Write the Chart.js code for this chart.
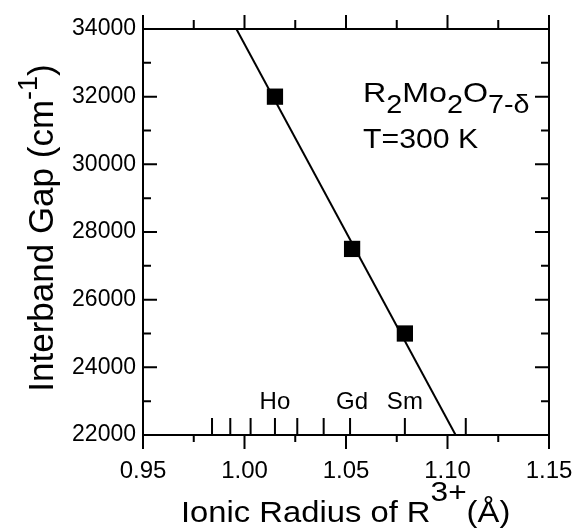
<!DOCTYPE html>
<html>
<head>
<meta charset="utf-8">
<script src="https://cdn.jsdelivr.net/npm/chart.js@4/dist/chart.umd.min.js"></script>
<style>
  html, body { margin: 0; padding: 0; background: #fff; }
  #wrap { width: 573px; height: 529px; }
</style>
</head>
<body>
<div id="wrap"><canvas id="chart" width="573" height="529"></canvas></div>
<script>
// measured points (Ho, Gd, Sm)
const compounds = ['Ho', 'Gd', 'Sm']
const ionicRadius = [1.015, 1.053, 1.079]
const interbandGap = [32000, 27500, 25000]

// linear fit drawn through the points
const fitRadius = [0.996, 1.104]
const fitGap = [34000, 22000]

// rare-earth ionic radii marked on the x axis
const rareEarthRadii = [0.984, 0.993, 1.003, 1.015, 1.026, 1.039, 1.052, 1.079, 1.109]

const xTicks = [0.95, 1.00, 1.05, 1.10, 1.15]
const yTicks = [22000, 24000, 26000, 28000, 30000, 32000, 34000]

const FONT = '"Liberation Sans", Arial, sans-serif'

function runsWidth(ctx, runs) {
  let w = 0
  runs.forEach(r => { ctx.font = r.size + 'px ' + FONT; w += ctx.measureText(r.t).width })
  return w
}
function drawRuns(ctx, runs, x, y) {
  runs.forEach(r => {
    ctx.font = r.size + 'px ' + FONT
    ctx.fillText(r.t, x, y + (r.dy || 0))
    x += ctx.measureText(r.t).width
  })
}
// the scanned lettering is a little wider than Arial
function drawWide(ctx, runs, x, y, sx) {
  ctx.save()
  ctx.translate(x, y)
  ctx.scale(sx, 1)
  drawRuns(ctx, runs, 0, 0)
  ctx.restore()
}

const framePlugin = {
  id: 'frame',
  afterDraw(chart) {
    const { ctx, chartArea: a, scales: { x, y } } = chart
    ctx.save()
    ctx.strokeStyle = '#000'
    ctx.fillStyle = '#000'
    ctx.lineWidth = 2
    ctx.strokeRect(a.left, a.top, a.right - a.left, a.bottom - a.top)

    ctx.beginPath()
    // y ticks, inward on both sides
    for (let v = 22000; v <= 34000; v += 1000) {
      const py = y.getPixelForValue(v)
      const len = v % 2000 === 0 ? 14 : 8
      ctx.moveTo(a.left, py); ctx.lineTo(a.left + len, py)
      ctx.moveTo(a.right, py); ctx.lineTo(a.right - len, py)
    }
    // x ticks, outward on top and bottom
    for (let i = 0; i <= 8; i++) {
      const v = 0.95 + i * 0.025
      const px = x.getPixelForValue(v)
      const major = i % 2 === 0
      ctx.moveTo(px, a.top); ctx.lineTo(px, a.top - (major ? 14 : 9))
      ctx.moveTo(px, a.bottom); ctx.lineTo(px, a.bottom + (major ? 14 : 7))
    }
    // rare-earth markers
    rareEarthRadii.forEach(r => {
      const px = x.getPixelForValue(r)
      ctx.moveTo(px, a.bottom); ctx.lineTo(px, a.bottom - 17)
    })
    ctx.stroke()

    // element names
    ctx.textAlign = 'center'
    ctx.textBaseline = 'alphabetic'
    ctx.font = '24px ' + FONT
    compounds.forEach((c, i) => {
      ctx.fillText(c, x.getPixelForValue(ionicRadius[i]), a.bottom - 26)
    })

    // annotation
    ctx.textAlign = 'left'
    drawWide(ctx, [
      { t: 'R', size: 28 }, { t: '2', size: 25, dy: 11 },
      { t: 'Mo', size: 28 }, { t: '2', size: 25, dy: 11 },
      { t: 'O', size: 28 }, { t: '7-δ', size: 25, dy: 11 }
    ], a.left + 220, a.top + 73, 1.15)
    drawWide(ctx, [{ t: 'T=300 K', size: 27 }], a.left + 220, a.top + 119, 1.12)

    // x title
    drawWide(ctx, [
      { t: 'Ionic Radius of R', size: 29 },
      { t: '3+', size: 28, dy: -21 },
      { t: '(Å)', size: 29 }
    ], a.left + 38, a.bottom + 87, 1.13)

    // y title
    const yRuns = [
      { t: 'Interband Gap (cm', size: 35 },
      { t: '-1', size: 27, dy: -16 },
      { t: ')', size: 35 }
    ]
    const w = runsWidth(ctx, yRuns)
    ctx.translate(a.left - 90, (a.top + a.bottom) / 2 - 4)
    ctx.rotate(-Math.PI / 2)
    drawRuns(ctx, yRuns, -w / 2, 0)
    ctx.restore()
  }
}

new Chart(document.getElementById('chart'), {
  type: 'scatter',
  data: {
    datasets: [
      {
        label: 'R2Mo2O7',
        data: ionicRadius.map((r, i) => ({ x: r, y: interbandGap[i] })),
        pointStyle: 'rect',
        pointRadius: 11.5,
        pointHoverRadius: 11.5,
        backgroundColor: '#000',
        borderColor: '#000',
        borderWidth: 0
      },
      {
        label: 'fit',
        data: fitRadius.map((r, i) => ({ x: r, y: fitGap[i] })),
        showLine: true,
        pointRadius: 0,
        borderColor: '#000',
        borderWidth: 2
      }
    ]
  },
  options: {
    responsive: false,
    animation: false,
    layout: { padding: { top: 29, right: 24, left: 0, bottom: 0 } },
    plugins: { legend: { display: false }, tooltip: { enabled: false } },
    scales: {
      x: {
        type: 'linear',
        min: 0.95,
        max: 1.15,
        afterBuildTicks: s => { s.ticks = xTicks.map(v => ({ value: v })) },
        afterFit: s => { s.height = 94; s.paddingLeft = 0; s.paddingRight = 0 },
        grid: { display: false, drawTicks: false },
        border: { display: false },
        ticks: { color: '#000', font: { family: FONT, size: 24 }, padding: 22, callback: v => v.toFixed(2) }
      },
      y: {
        type: 'linear',
        min: 22000,
        max: 34000,
        afterBuildTicks: s => { s.ticks = yTicks.map(v => ({ value: v })) },
        afterFit: s => { s.width = 143; s.paddingTop = 0; s.paddingBottom = 0 },
        grid: { display: false, drawTicks: false },
        border: { display: false },
        ticks: { color: '#000', font: { family: FONT, size: 23 }, padding: 7, callback: v => String(v) }
      }
    }
  },
  plugins: [framePlugin]
})
</script>
</body>
</html>
